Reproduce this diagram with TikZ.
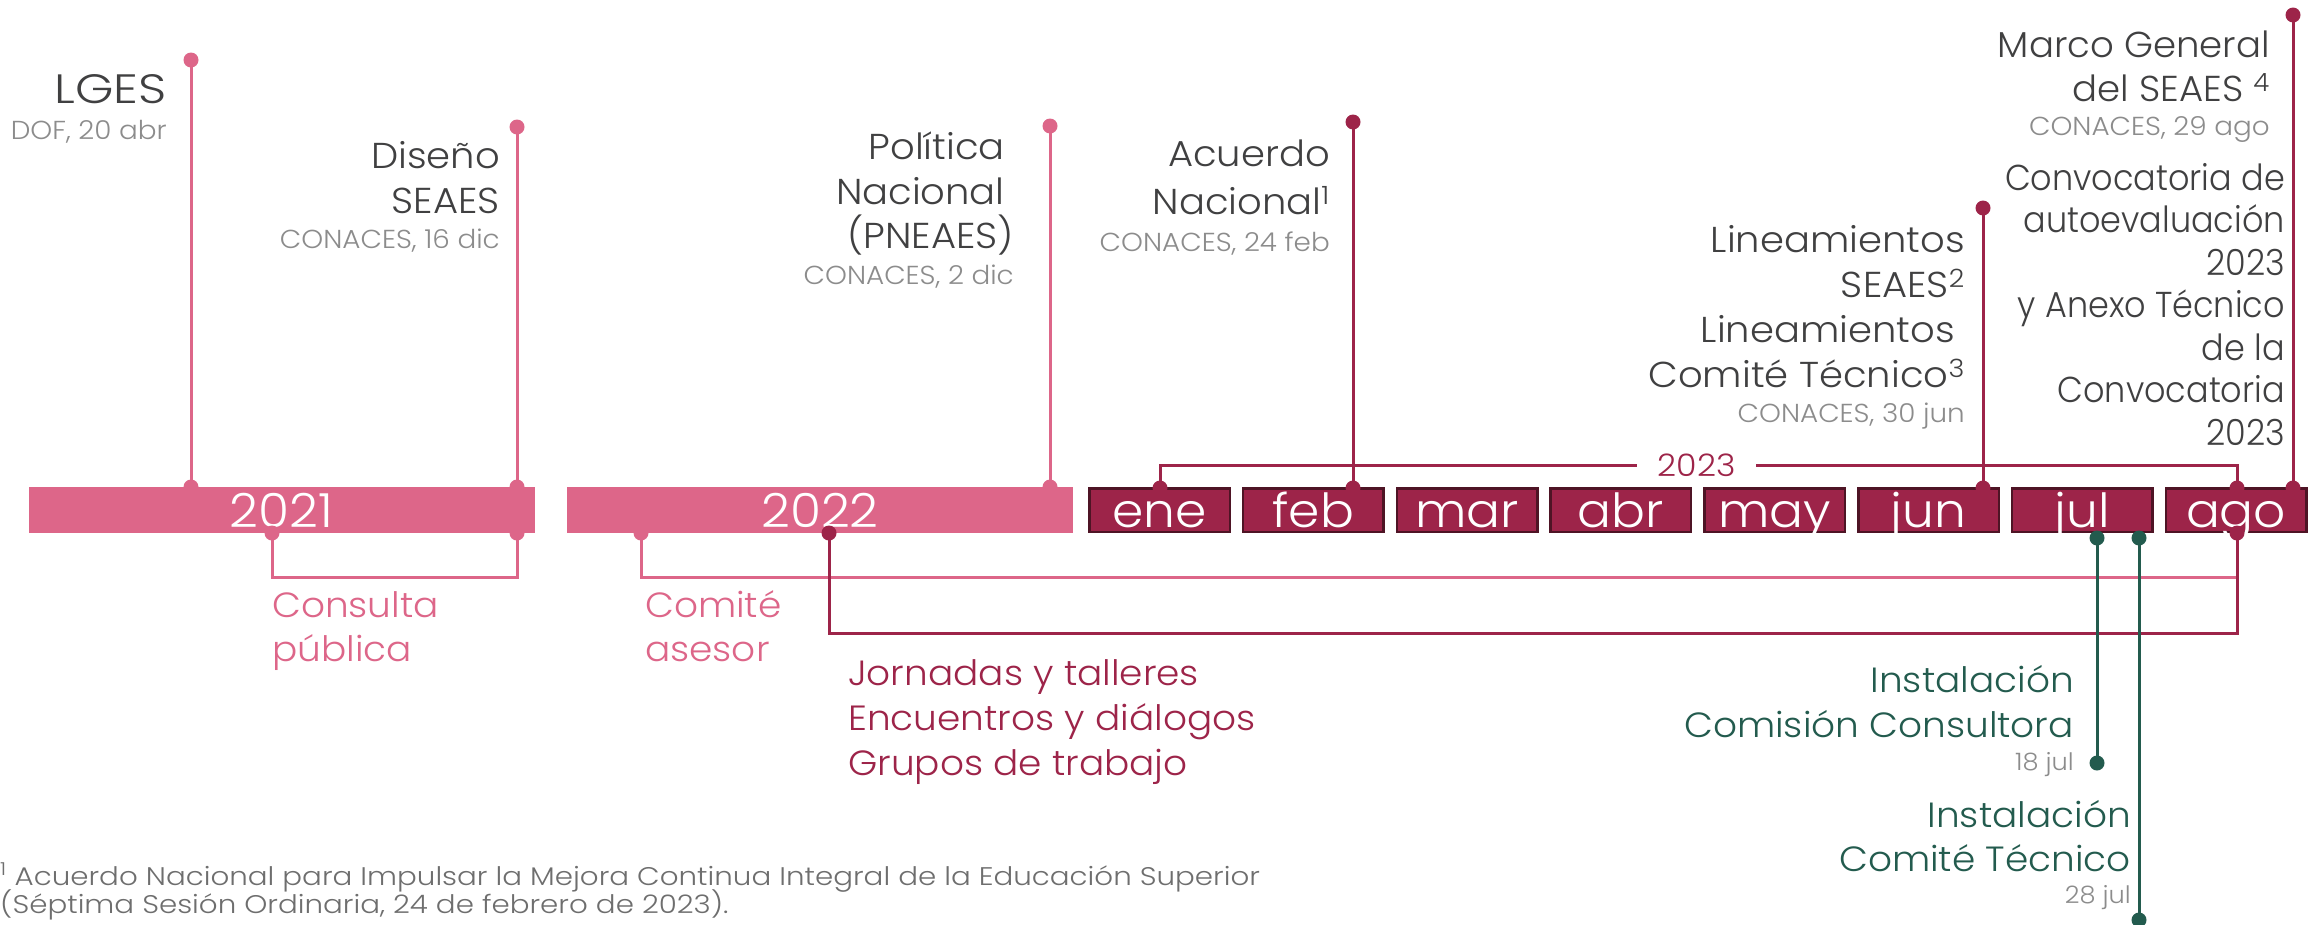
\documentclass[tikz,border=0pt]{standalone}
\usepackage{fontspec}
\setmainfont{Poppins Light}
\newfontfamily\fA{Poppins Light}[FakeStretch=1.07]
\newfontfamily\fM{Poppins Light}[FakeStretch=1.03]
\newfontfamily\fC{Poppins Light}[FakeStretch=0.93]
\newfontfamily\fF{Poppins Light}[FakeStretch=1.15]
\newfontfamily\fL{Poppins Light}[FakeStretch=1.2]
\definecolor{pinkc}{RGB}{221,102,137}
\definecolor{guinda}{RGB}{157,36,73}
\definecolor{guindadk}{RGB}{78,20,37}
\definecolor{greenc}{RGB}{35,91,78}
\definecolor{txtdk}{RGB}{64,64,65}
\definecolor{txtgray}{RGB}{140,140,140}
\definecolor{fngray}{RGB}{110,110,110}
\newcommand\myfs[2]{\fontsize{#1}{#2}\selectfont}
\tikzset{
  lineP/.style={draw=pinkc, line width=3pt},
  lineG/.style={draw=guinda, line width=3pt},
  lineV/.style={draw=greenc, line width=3pt},
  dotbase/.style={circle, inner sep=0pt, minimum size=15pt},
  dotP/.style={dotbase, fill=pinkc},
  dotG/.style={dotbase, fill=guinda},
  dotV/.style={dotbase, fill=greenc},
  lblR/.style={anchor=base east, inner sep=0pt, text=txtdk, font=\fA\myfs{36}{45}},
  lblM/.style={lblR, font=\fM\myfs{36}{45}},
  lblC/.style={lblR, font=\fC\myfs{36}{45}},
  lblL/.style={anchor=base west, inner sep=0pt, font=\fA\myfs{35}{45}},
  lblV/.style={anchor=base east, inner sep=0pt, text=greenc, font=\fA\myfs{35}{45}},
  dateR/.style={anchor=base east, inner sep=0pt, text=txtgray, font=\fA\myfs{26}{30}},
  dateS/.style={dateR, font=\fA\myfs{24}{28}},
  fnote/.style={anchor=base west, inner sep=0pt, text=fngray, font=\fF\myfs{25.5}{28}},
  yearbar/.style={fill=pinkc, inner sep=0pt, minimum width=506pt, minimum height=46pt},
  monthbox/.style={fill=guinda, draw=guindadk, line width=2.5pt, inner sep=0pt, minimum width=140.5pt, minimum height=43.5pt},
  bartxt/.style={anchor=base, inner sep=0pt, text=white, font=\fA\myfs{47}{50}},
}
\begin{document}
\begin{tikzpicture}[x=1pt,y=-1pt]
\useasboundingbox[fill=white] (0,0) rectangle (2320,924);

% year bars
\node[yearbar] (b2021) at (281.5,510) {};
\node[bartxt] (t2021) at (281.5,527) {2021};
\node[yearbar] (b2022) at (820,510) {};
\node[bartxt] (t2022) at (820,527) {2022};
% month boxes
\foreach \m [count=\i from 0] in {ene,feb,mar,abr,may,jun,jul,ago}{
  \node[monthbox] (m\m) at ({1159.5+153.8*\i},510) {};
  \node[bartxt] (t\m) at ({1159.5+153.8*\i},527) {\m};
}

% ---- top pins
\node[dotP] (lgesT) at (191,60) {};
\node[dotP] (lgesB) at (191,487) {};
\draw[lineP] (lgesT.center) -- (lgesB.center);
\node[dotP] (disT) at (517,127) {};
\node[dotP] (disB) at (517,487) {};
\draw[lineP] (disT.center) -- (disB.center);
\node[dotP] (polT) at (1050,126) {};
\node[dotP] (polB) at (1050,487) {};
\draw[lineP] (polT.center) -- (polB.center);
\node[dotG] (acuT) at (1353,122) {};
\node[dotG] (acuB) at (1353,488) {};
\draw[lineG] (acuT.center) -- (acuB.center);
\node[dotG] (linT) at (1983,208) {};
\node[dotG] (linB) at (1983,488) {};
\draw[lineG] (linT.center) -- (linB.center);
\node[dotG] (marT) at (2293,15) {};
\node[dotG] (marB) at (2293,488) {};
\draw[lineG] (marT.center) -- (marB.center);

% 2023 bracket
\node[dotG] (y23L) at (1160,488) {};
\node[dotG] (y23R) at (2237,488) {};
\node[inner sep=0pt, minimum width=119pt, text=guinda, font=\fA\myfs{31}{34}] (t2023) at (1696.5,465) {2023};
\draw[lineG] (y23L.center) |- (t2023.west);
\draw[lineG] (t2023.east) -| (y23R.center);

% ---- labels top
\node[lblR, font=\fL\myfs{41}{45}] (lges) at (167,103) {LGES};
\node[dateR] (lgesd) at (167,139) {DOF, 20 abr};

\node[lblR] (dis1) at (500,168) {Diseño};
\node[lblR] (dis2) at (500,213) {SEAES};
\node[dateR] (disd) at (500,248) {CONACES, 16 dic};

\node[lblR] (pol1) at (1005,159) {Política};
\node[lblR] (pol2) at (1005,204) {Nacional};
\node[lblR] (pol3) at (1014,248) {(PNEAES)};
\node[dateR] (pold) at (1014,284) {CONACES, 2 dic};

\node[lblR] (acu1) at (1330,166) {Acuerdo};
\node[lblR] (acu2) at (1330,214) {Nacional\textsuperscript{1}};
\node[dateR] (acud) at (1330,251) {CONACES, 24 feb};

\node[lblR] (lin1) at (1965,252) {Lineamientos};
\node[lblR] (lin2) at (1965,297) {SEAES\textsuperscript{2}};
\node[lblR] (lin3) at (1955,342) {Lineamientos};
\node[lblR] (lin4) at (1965,387) {Comité Técnico\textsuperscript{3}};
\node[dateR] (lind) at (1965,422) {CONACES, 30 jun};

\node[lblM] (mar1) at (2270,57) {Marco General};
\node[lblM] (mar2) at (2270,101) {del SEAES \textsuperscript{4}};
\node[dateR] (mard) at (2270,135) {CONACES, 29 ago};

\node[lblC] (con1) at (2285,190) {Convocatoria de};
\node[lblC] (con2) at (2285,232.5) {autoevaluación};
\node[lblC] (con3) at (2285,275) {2023};
\node[lblC] (con4) at (2285,317.5) {y Anexo Técnico};
\node[lblC] (con5) at (2285,360) {de la};
\node[lblC] (con6) at (2285,402.5) {Convocatoria};
\node[lblC] (con7) at (2285,445) {2023};

% ---- bottom brackets
\node[dotP] (cpA) at (272,533) {};
\node[dotP] (cpB) at (517,533) {};
\draw[lineP] (cpA.center) -- ++(0,44) -| (cpB.center);
\node[lblL, text=pinkc] (cp1) at (272,617) {Consulta};
\node[lblL, text=pinkc] (cp2) at (272,661) {pública};

\node[dotP] (caA) at (641,533) {};
\coordinate (caEnd) at (2237,577);
\draw[lineP] (caA.center) |- (caEnd);
\node[lblL, text=pinkc] (ca1) at (645,617) {Comité};
\node[lblL, text=pinkc] (ca2) at (645,661) {asesor};

\node[dotG] (jtA) at (829,533) {};
\node[dotG] (jtB) at (2237,533) {};
\draw[lineG] (jtA.center) -- ++(0,100) -| (jtB.center);
\node[lblL, text=guinda] (jt1) at (848,685) {Jornadas y talleres};
\node[lblL, text=guinda] (jt2) at (848,730) {Encuentros y diálogos};
\node[lblL, text=guinda] (jt3) at (848,775) {Grupos de trabajo};

% ---- green pins
\node[dotV] (g1T) at (2097,538) {};
\node[dotV] (g1B) at (2097,763) {};
\draw[lineV] (g1T.center) -- (g1B.center);
\node[dotV] (g2T) at (2139,538) {};
\node[dotV] (g2B) at (2139,920) {};
\draw[lineV] (g2T.center) -- (g2B.center);
\node[lblV] (g1a) at (2074,692) {Instalación};
\node[lblV] (g1b) at (2074,737) {Comisión Consultora};
\node[dateS] (g1d) at (2074,770) {18 jul};
\node[lblV] (g2a) at (2131,827) {Instalación};
\node[lblV] (g2b) at (2131,871) {Comité Técnico};
\node[dateS] (g2d) at (2131,903) {28 jul};

% ---- footnote
\node[fnote] (fn1) at (0,885) {\textsuperscript{1} Acuerdo Nacional para Impulsar la Mejora Continua Integral de la Educación Superior};
\node[fnote] (fn2) at (0,913) {(Séptima Sesión Ordinaria, 24 de febrero de 2023).};
\end{tikzpicture}
\end{document}
